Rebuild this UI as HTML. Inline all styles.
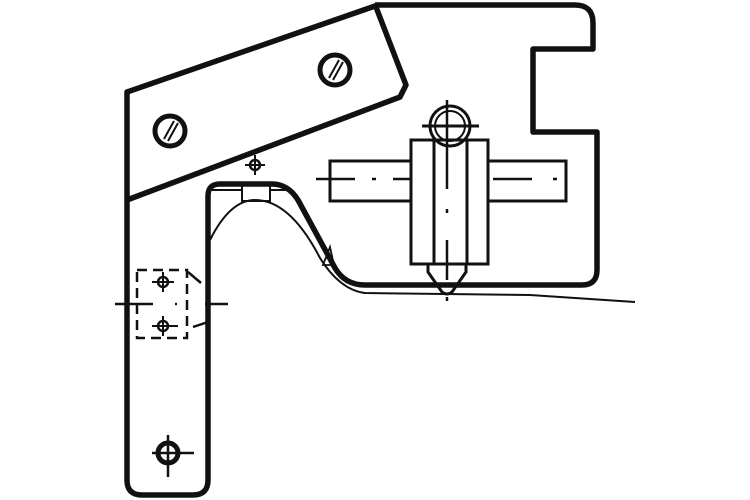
<!DOCTYPE html>
<html><head><style>html,body{margin:0;padding:0;background:#fff}svg{display:block}</style></head>
<body>
<svg width="750" height="500" viewBox="0 0 750 500" xmlns="http://www.w3.org/2000/svg" fill="none" stroke="#111" stroke-linecap="butt">
<path d="M375,5 H575 Q593,5 593,23 V49 H533 V132 H597 V270 Q597,285 582,285 H365 Q345,285 335,268 L298,200 Q288,184 272,184 H220 Q208,184 208,196 V480 Q208,495 193,495 H142 Q127,495 127,480 V92 L378,5" stroke-width="5.5" stroke-linejoin="round"/>
<path d="M376,7 L406,85 L400,97 L127,200" stroke-width="5.5" stroke-linejoin="round"/>
<circle cx="170" cy="131" r="15" stroke-width="5"/>
<path d="M164,139 L174,121 M168,141 L178,123" stroke-width="2"/>
<circle cx="335" cy="70" r="15" stroke-width="5"/>
<path d="M329,78 L339,60 M333,80 L343,62" stroke-width="2"/>
<circle cx="255" cy="165" r="5" stroke-width="2.5"/>
<path d="M245,165 H265 M255,155 V175" stroke-width="2"/>
<rect x="242" y="184" width="28" height="17" stroke-width="2"/>
<path d="M212,190 H242 M270,190 H290" stroke-width="2"/>
<path d="M210,240 Q230,200 255,200 Q290,200 320,258 Q340,290 365,293 L530,295 L635,302" stroke-width="2"/>
<path d="M323,265 L330,247 L334,265 Z" stroke-width="1.8"/>
<path d="M411,161 H330 V201 H411 M488,161 H566 V201 H488" stroke-width="3"/>
<path d="M316,179 H355 M372,179 H376 M393,179 H410 M493,179 H532 M553,179 H557" stroke-width="2.5"/>
<rect x="411" y="140" width="77" height="124" stroke-width="3"/>
<path d="M434,140 V264 M467,140 V264" stroke-width="3"/>
<path d="M428,264 V272 L442,292 Q447,296 452,292 L466,272 V264" stroke-width="3"/>
<path d="M447,100 V189 M447,209 V213 M447,240 V280 M447,297 V301" stroke-width="2.5"/>
<circle cx="450" cy="126" r="20" stroke-width="3"/>
<circle cx="450" cy="126" r="15" stroke-width="2"/>
<path d="M422,126 H479" stroke-width="3"/>
<rect x="137" y="270" width="50" height="68" stroke-width="2.5" stroke-dasharray="10,6"/>
<path d="M188,272 L201,283 M193,327 L208,322" stroke-width="2.5"/>
<circle cx="163" cy="282" r="5" stroke-width="2.5"/>
<path d="M152,282 H174 M163,272 V292" stroke-width="2"/>
<circle cx="163" cy="326" r="5" stroke-width="2.5"/>
<path d="M152,326 H178 M163,316 V336" stroke-width="2"/>
<path d="M115,304 H153 M175,304 H177 M205,304 H228" stroke-width="2.5"/>
<circle cx="168" cy="453" r="10" stroke-width="5"/>
<path d="M152,453 H194 M168,435 V477" stroke-width="2.5"/>
</svg>
</body></html>
